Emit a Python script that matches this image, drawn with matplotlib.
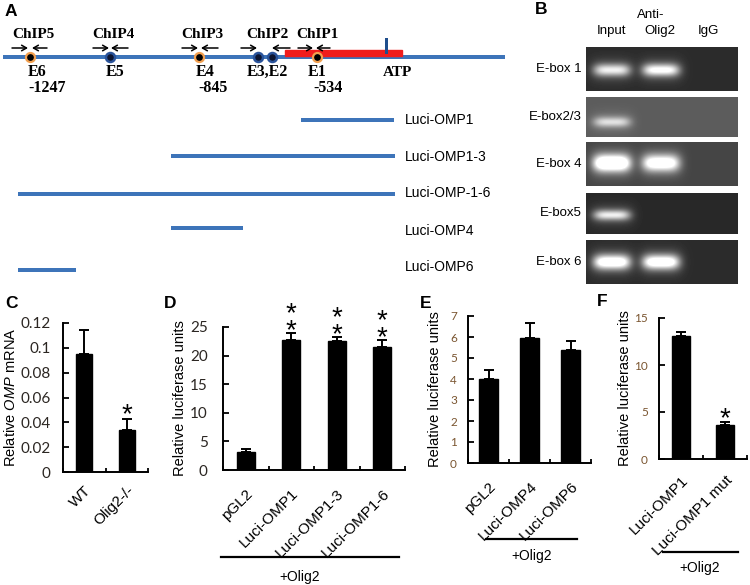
import matplotlib
matplotlib.use("Agg")
import matplotlib.pyplot as plt
import numpy as np
from matplotlib.patches import Rectangle
from matplotlib.transforms import ScaledTranslation

plt.rcParams["font.family"] = ["Liberation Sans", "DejaVu Sans"]
plt.rcParams["mathtext.fontset"] = "custom"
plt.rcParams["mathtext.rm"] = "Liberation Sans"
plt.rcParams["mathtext.it"] = "Liberation Sans:italic"

# ---- panel A: promoter schematic (schematic x positions) ----
ebox_names = ["E6", "E5", "E4", "E3,E2", "E1"]
ebox_label_x = [37, 115, 205, 267, 317]
ebox_dot_x = [30, 110, 199, 258, 272, 317]
ebox_bound = [True, False, True, False, False, True]
ebox_pos_labels = ["-1247", "-845", "-534"]
ebox_pos_x = [47, 213, 328]
chip_names = ["ChIP5", "ChIP4", "ChIP3", "ChIP2", "ChIP1"]
chip_label_x = [33, 113, 202, 267, 317]
chip_fwd = [(12, 28), (93, 109), (182, 198), (241, 257), (298, 313)]
chip_rev = [(47, 32), (128, 111), (218, 201), (290, 272), (330, 316)]
promoter_span = (3, 505)
red_span = (285, 402)
atp_x = 386

construct_names = ["Luci-OMP1", "Luci-OMP1-3", "Luci-OMP-1-6", "Luci-OMP4", "Luci-OMP6"]
construct_start = [301, 171, 18, 171, 18]
construct_end = [394, 395, 395, 243, 76]
construct_y = [120, 156, 194, 228, 270]
construct_label_y = [120, 157, 193, 231, 267]

# ---- panel B: ChIP gel ----
gel_rows = ["E-box 1", "E-box2/3", "E-box 4", "E-box5", "E-box 6"]
gel_top = [47, 97, 142, 193, 240]
gel_bottom = [91, 137, 186, 234, 284]
gel_bg = [0.17, 0.36, 0.27, 0.16, 0.17]
band_input = [0.75, 0.5, 1.1, 0.75, 1.0]
band_olig2 = [0.85, 0.0, 0.9, 0.0, 1.0]
band_igg = [0.0, 0.0, 0.0, 0.0, 0.0]
band_y = [70, 122, 163, 215, 262]
band_h = [6, 5, 8, 5, 7]
lane_x = [612, 661, 710]

# ---- panel C ----
c_labels = ["WT", "Olig2-/-"]
c_values = [0.095, 0.034]
c_errors = [0.019, 0.009]
c_ticks = [0, 0.02, 0.04, 0.06, 0.08, 0.1, 0.12]
c_ticklabels = ["0", "0.02", "0.04", "0.06", "0.08", "0.1", "0.12"]

# ---- panel D ----
d_labels = ["pGL2", "Luci-OMP1", "Luci-OMP1-3", "Luci-OMP1-6"]
d_values = [3.2, 22.8, 22.5, 21.5]
d_errors = [0.5, 1.2, 0.8, 1.3]
d_ticks = [0, 5, 10, 15, 20, 25]

# ---- panel E ----
e_labels = ["pGL2", "Luci-OMP4", "Luci-OMP6"]
e_values = [4.0, 5.95, 5.4]
e_errors = [0.45, 0.7, 0.42]
e_ticks = [0, 1, 2, 3, 4, 5, 6, 7]

# ---- panel F ----
f_labels = ["Luci-OMP1", "Luci-OMP1 mut"]
f_values = [13.1, 3.6]
f_errors = [0.4, 0.3]
f_ticks = [0, 5, 10, 15]

W, H = 750, 585
BLUE = "#3d74b9"
PX = 0.72  # points per pixel at dpi 100

fig = plt.figure(figsize=(7.5, 5.85), dpi=100)
ov = fig.add_axes([0, 0, 1, 1])
ov.set_xlim(0, W)
ov.set_ylim(H, 0)
ov.axis("off")

# panel A
ov.plot(promoter_span, [57, 57], color=BLUE, lw=4 * PX, solid_capstyle="butt", zorder=2)
ov.add_patch(Rectangle((red_span[0], 50), red_span[1] - red_span[0], 6, color="#f01c1c", zorder=3))
ov.plot([atp_x, atp_x], [39, 52], color="#1f4e8c", lw=3 * PX, zorder=3)
ov.text(397, 72, "ATP", family="Liberation Serif", weight="bold", fontsize=11, ha="center", va="center")
for x, bound in zip(ebox_dot_x, ebox_bound):
    if bound:
        ov.plot(x, 57, "o", ms=9 * PX, mfc="black", mec="#f2a050", mew=1.6, zorder=4)
    else:
        ov.plot(x, 57, "o", ms=9 * PX, mfc="#0d1530", mec="#2a539a", mew=1.8, zorder=4)
for name, x in zip(ebox_names, ebox_label_x):
    ov.text(x, 72, name, family="Liberation Serif", weight="bold", fontsize=11.5, ha="center", va="center")
for name, x in zip(ebox_pos_labels, ebox_pos_x):
    ov.text(x, 88, name, family="Liberation Serif", weight="bold", fontsize=11.5, ha="center", va="center")
for name, x in zip(chip_names, chip_label_x):
    ov.text(x, 35, name, family="Liberation Serif", weight="bold", fontsize=11, ha="center", va="center")
for (a, b) in chip_fwd + chip_rev:
    ov.annotate("", xy=(b, 48), xytext=(a, 48),
                arrowprops=dict(arrowstyle="->,head_length=0.35,head_width=0.2", lw=1.1, color="black",
                                shrinkA=0, shrinkB=0))
for name, x0, x1, y, ly in zip(construct_names, construct_start, construct_end, construct_y, construct_label_y):
    ov.plot([x0, x1], [y, y], color=BLUE, lw=4 * PX, solid_capstyle="butt")
    ov.text(405, ly, name, fontsize=10, ha="left", va="center")

# panel B
gel_left, gel_right = 586, 738
for i, name in enumerate(gel_rows):
    t, b = gel_top[i], gel_bottom[i]
    xs = np.arange(gel_left, gel_right) + 0.5
    ys = np.arange(t, b) + 0.5
    X, Y = np.meshgrid(xs, ys)
    img = np.full(X.shape, gel_bg[i])
    for cx, amp in zip(lane_x, [band_input[i], band_olig2[i], band_igg[i]]):
        core = np.exp(-((X - cx) / 18) ** 4 - ((Y - band_y[i]) / band_h[i]) ** 2)
        glow = np.exp(-((X - cx) / 22) ** 4 - ((Y - band_y[i]) / (band_h[i] + 5)) ** 2)
        img = img + amp * (0.8 * core + 0.25 * glow)
    img = np.clip(img, 0, 1)
    ov.imshow(img, cmap="gray", vmin=0, vmax=1, extent=(gel_left, gel_right, b, t),
              interpolation="bilinear", aspect="auto", zorder=2)
    ov.text(582, (t + b) / 2, name, fontsize=9.5, ha="right", va="center")
ov.set_xlim(0, W)
ov.set_ylim(H, 0)
ov.text(612, 31, "Input", fontsize=9.5, ha="center", va="center")
ov.text(637, 15, "Anti-", fontsize=9.5, ha="left", va="center")
ov.text(660, 31, "Olig2", fontsize=9.5, ha="center", va="center")
ov.text(708, 31, "IgG", fontsize=9.5, ha="center", va="center")

# panel letters
for letter, x, y in [("A", 5, 11), ("B", 535, 10), ("C", 5, 303), ("D", 164, 303), ("E", 420, 303), ("F", 597, 302)]:
    ov.text(x, y, letter, fontsize=12.5, weight="bold", ha="left", va="center")

# +Olig2 brackets
for x0, x1, ly, tx, ty in [(221, 399, 557, 300, 577), (486, 577, 539, 532, 556), (663, 738, 552, 700, 568)]:
    ov.plot([x0, x1], [ly, ly], color="black", lw=1.6)
    ov.text(tx, ty, "+Olig2", fontsize=10, ha="center", va="center")


def bar_panel(left, right, bottom, top, labels, values, errors, ymax, ticks, ticklabels,
              ylabel, label_x, tick_size, tick_color, tick_pad, x_pad, width):
    ax = fig.add_axes([left / W, (H - bottom) / H, (right - left) / W, (bottom - top) / H])
    n = len(labels)
    x = np.arange(n)
    ax.bar(x, values, width=width, color="black", edgecolor="black", zorder=2)
    ax.errorbar(x, values, yerr=[np.zeros(n), errors], fmt="none", ecolor="black",
                elinewidth=1.4, capsize=3.5, capthick=1.4, zorder=3)
    ax.set_xlim(-0.5, n - 0.5)
    ax.set_ylim(0, ymax)
    ax.set_yticks(ticks)
    ax.set_yticklabels(ticklabels, family=["Lato", "Liberation Sans"])
    ax.set_xticks(x)
    ax.set_xticklabels(labels, rotation=45, ha="right", va="top", rotation_mode="anchor", fontsize=11)
    for lbl in ax.get_xticklabels():
        lbl.set_transform(lbl.get_transform() + ScaledTranslation(2 / 100, 0, fig.dpi_scale_trans))
    ax.set_xticks(np.arange(n + 1) - 0.5, minor=True)
    ax.tick_params(axis="x", which="major", length=0, pad=x_pad)
    ax.tick_params(axis="x", which="minor", direction="in", length=3, width=1.3)
    ax.tick_params(axis="y", direction="in", length=4, width=1.3, labelsize=tick_size,
                   labelcolor=tick_color, pad=tick_pad)
    for side in ["top", "right"]:
        ax.spines[side].set_visible(False)
    for side in ["left", "bottom"]:
        ax.spines[side].set_linewidth(1.4)
    ax.set_ylabel(ylabel, fontsize=10.5)
    ax.yaxis.set_label_coords(label_x, 0.5)
    return ax


ax_c = bar_panel(63, 148, 472, 323, c_labels, c_values, c_errors, 0.12, c_ticks, c_ticklabels,
                 r"Relative $\mathit{OMP}$ mRNA", -0.53, 11, "#2b2622", 9, 8, 0.38)
ax_d = bar_panel(223, 405, 470, 327, d_labels, d_values, d_errors, 25, d_ticks, [str(t) for t in d_ticks],
                 "Relative luciferase units", -0.2, 11, "#2b2622", 11, 12, 0.4)
ax_e = bar_panel(468, 591, 463, 316, e_labels, e_values, e_errors, 7, e_ticks, [str(t) for t in e_ticks],
                 "Relative luciferase units", -0.21, 8.5, "#7a5530", 8, 12, 0.47)
ax_f = bar_panel(659, 747, 459, 318, f_labels, f_values, f_errors, 15, f_ticks, [str(t) for t in f_ticks],
                 "Relative luciferase units", -0.31, 8.5, "#7a5530", 8, 10, 0.4)


def stars(ax, idx, values, errors, text, off):
    ax.annotate(text, xy=(idx, values[idx] + errors[idx]), xytext=(0, off), textcoords="offset points",
                ha="center", va="baseline", fontsize=20, linespacing=0.55, annotation_clip=False)


stars(ax_c, 1, c_values, c_errors, "*", -2.7)
for i in [1, 2, 3]:
    stars(ax_d, i, d_values, d_errors, "*\n*", -4.0)
stars(ax_f, 1, f_values, f_errors, "*", -2.5)

fig.savefig("out.png", dpi=100)
